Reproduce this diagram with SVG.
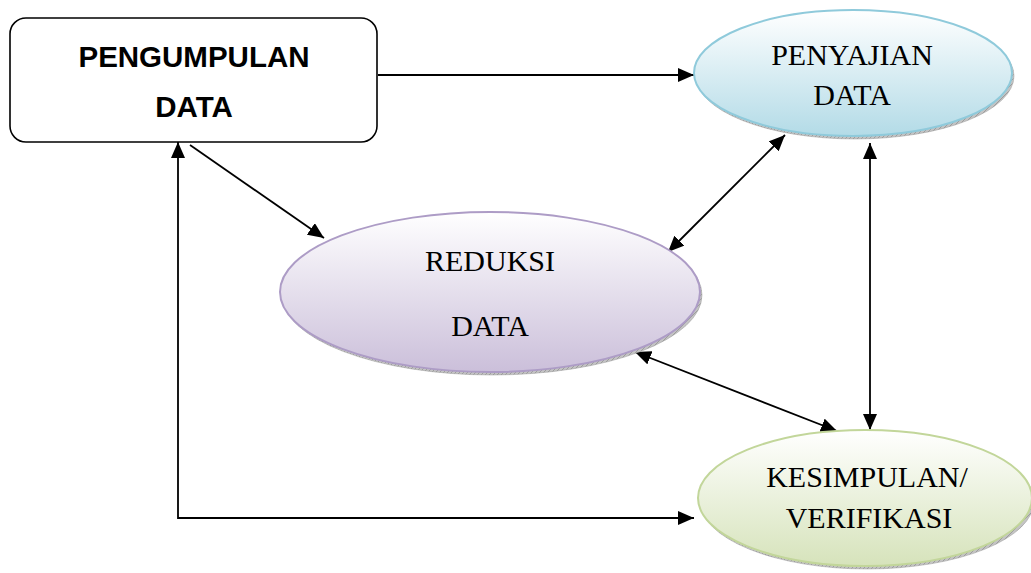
<svg xmlns="http://www.w3.org/2000/svg" width="1031" height="573" viewBox="0 0 1031 573">
<style>
.box{fill:#ffffff;stroke:#000;stroke-width:1.6}
.bt{font-family:"Liberation Sans",Arial,sans-serif;font-weight:bold;font-size:29.5px;fill:#000;text-anchor:middle}
.et{font-family:"Liberation Serif","Times New Roman",serif;font-size:30px;fill:#000;text-anchor:middle}
.shadow{fill:url(#hatch);stroke:#9a9a9a;stroke-width:0.5}
.conn{fill:none;stroke:#000;stroke-width:1.8}
</style>
<defs>
<pattern id="hatch" width="4" height="4" patternUnits="userSpaceOnUse">
<rect width="4" height="4" fill="#c4c4c4"/>
<path d="M0,4 L4,0" stroke="#8c8c8c" stroke-width="0.7"/>
</pattern>
<linearGradient id="gBlue" x1="0" y1="0" x2="0" y2="1">
<stop offset="0" stop-color="#ffffff"/>
<stop offset="1" stop-color="#b3dbe7"/>
</linearGradient>
<linearGradient id="gPurple" x1="0" y1="0" x2="0" y2="1">
<stop offset="0" stop-color="#ffffff"/>
<stop offset="1" stop-color="#cbbfda"/>
</linearGradient>
<linearGradient id="gGreen" x1="0" y1="0" x2="0" y2="1">
<stop offset="0" stop-color="#ffffff"/>
<stop offset="1" stop-color="#d6e3bb"/>
</linearGradient>
<marker id="ah" viewBox="0 0 16 14" refX="16" refY="7" markerWidth="16" markerHeight="14" markerUnits="userSpaceOnUse" orient="auto-start-reverse">
<path d="M0,0 L16,7 L0,14 Z" fill="#000"/>
</marker>
</defs>

<g id="connectors">
<line class="conn" x1="378" y1="75" x2="694" y2="75" marker-end="url(#ah)"/>
<line class="conn" x1="190" y1="145" x2="324" y2="238" marker-end="url(#ah)"/>
<polyline class="conn" points="178,142 178,518 694,518" marker-start="url(#ah)" marker-end="url(#ah)"/>
<line class="conn" x1="785" y1="135" x2="668" y2="252" marker-start="url(#ah)" marker-end="url(#ah)"/>
<line class="conn" x1="870" y1="143" x2="870" y2="430" marker-start="url(#ah)" marker-end="url(#ah)"/>
<line class="conn" x1="635" y1="352" x2="837" y2="431" marker-start="url(#ah)" marker-end="url(#ah)"/>
</g>

<g id="pengumpulan">
<rect class="box" x="10" y="18" width="367" height="124" rx="16" ry="16"/>
<text class="bt" x="194" y="67">PENGUMPULAN</text>
<text class="bt" x="194" y="117">DATA</text>
</g>

<g id="penyajian">
<ellipse class="shadow" cx="855" cy="76" rx="159" ry="63"/>
<ellipse cx="853" cy="73" rx="159" ry="63" fill="url(#gBlue)" stroke="#8fcadb" stroke-width="2"/>
<text class="et" x="852" y="65">PENYAJIAN</text>
<text class="et" x="852" y="105">DATA</text>
</g>

<g id="reduksi">
<ellipse class="shadow" cx="492" cy="295" rx="210" ry="80"/>
<ellipse cx="490" cy="292" rx="210" ry="80" fill="url(#gPurple)" stroke="#ad9cc6" stroke-width="2"/>
<text class="et" x="490" y="271">REDUKSI</text>
<text class="et" x="490" y="336">DATA</text>
</g>

<g id="kesimpulan">
<ellipse class="shadow" cx="867" cy="501" rx="167" ry="68"/>
<ellipse cx="865" cy="498" rx="167" ry="68" fill="url(#gGreen)" stroke="#c2d69a" stroke-width="2"/>
<text class="et" x="867" y="487">KESIMPULAN/</text>
<text class="et" x="869" y="528">VERIFIKASI</text>
</g>
</svg>
